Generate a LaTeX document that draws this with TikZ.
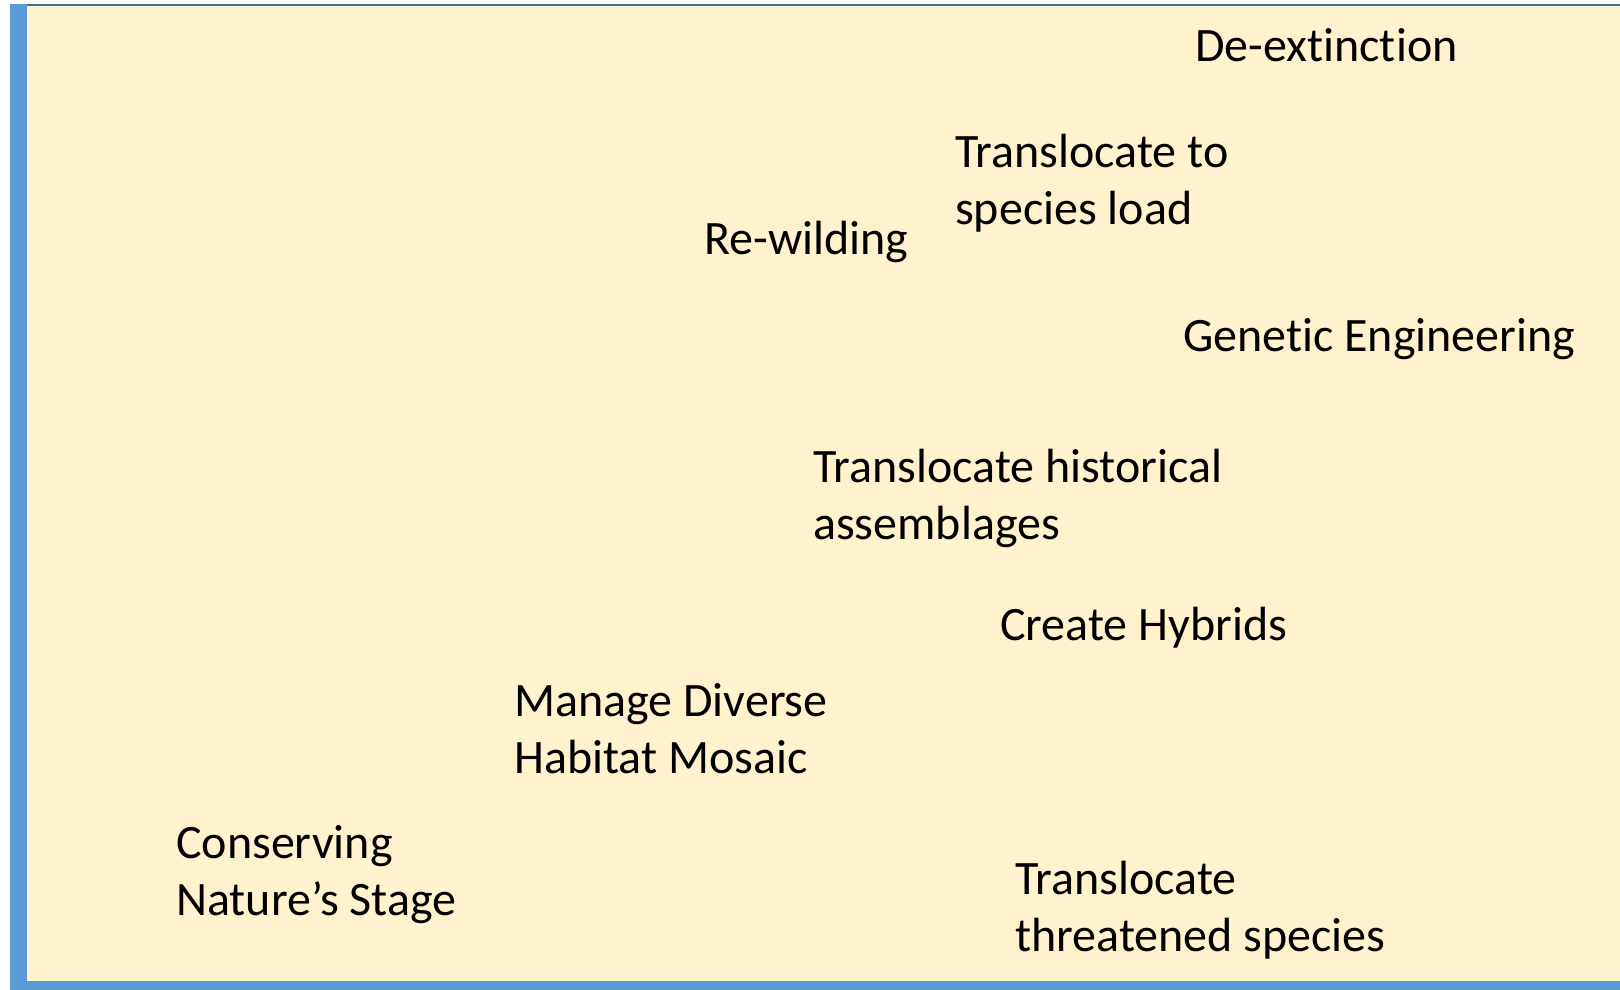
\documentclass[tikz,border=0pt]{standalone}
\usepackage{fontspec}
\setmainfont{Carlito}[Ligatures=NoCommon]
\definecolor{paper}{HTML}{FFF2CC}
\definecolor{barblue}{HTML}{5B9BD5}
\definecolor{topblue}{HTML}{41719C}
\tikzset{
  lbl/.style={anchor=base west, inner sep=0pt, align=left,
    font=\fontsize{48}{57}\selectfont, text=black}
}
\begin{document}
\begin{tikzpicture}[x=1pt,y=-1pt]
\useasboundingbox (0,0) rectangle (1620,990);
\fill[white] (0,0) rectangle (1620,990);
\fill[paper] (27,6) rectangle (1620,981);
\fill[topblue] (20,4) rectangle (1620,6.5);
\fill[barblue] (10,4) rectangle (27,990);
\fill[barblue] (10,981) rectangle (1620,990);
\node[lbl] (deext) at (1195,62) {De-extinction};
\node[lbl] (transload) at (955,224) {Translocate to\\species load};
\node[lbl] (rewild) at (704,254) {Re-wilding};
\node[lbl] (genetic) at (1183,351) {Genetic Engineering};
\node[lbl] (transhist) at (813,539) {Translocate historical\\assemblages};
\node[lbl] (hybrids) at (1000,640) {Create Hybrids};
\node[lbl] (manage) at (514,773) {Manage Diverse\\Habitat Mosaic};
\node[lbl] (conserve) at (176,915) {Conserving\\Nature’s Stage};
\node[lbl] (transthreat) at (1015,951) {Translocate\\threatened species};
\end{tikzpicture}
\end{document}
